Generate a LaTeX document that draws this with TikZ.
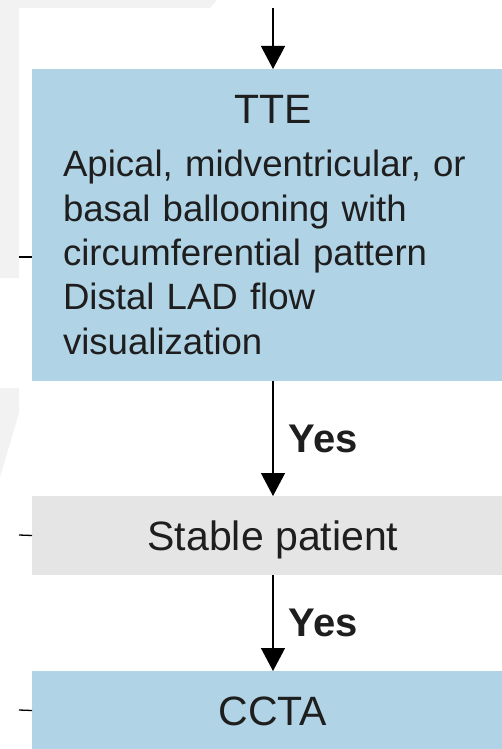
\documentclass[tikz,border=0pt]{standalone}
\usepackage{fontspec}
\setmainfont{Liberation Sans}
\usepackage{xcolor}
\usepackage{tikz}
\usetikzlibrary{arrows.meta}

\definecolor{boxblue}{RGB}{177,211,230}
\definecolor{boxgray}{RGB}{229,229,229}
\definecolor{bggray}{RGB}{242,242,242}
\definecolor{ink}{RGB}{30,30,30}

\begin{document}
\begin{tikzpicture}[x=1pt, y=-1pt, line width=1.3pt, text=ink,
        box/.style={minimum width=482pt, inner sep=0pt, outer sep=0pt},
        arrow/.style={-{Triangle[length=23pt, width=24pt]}},
        yes/.style={right, inner sep=0pt, xshift=15pt, font=\fontsize{40}{44}\selectfont\bfseries}]
        \useasboundingbox (0, 0) rectangle (502, 749);
        \clip (0, 0) rectangle (502, 749);
        \fill [bggray] (0, 0) -- (217, 0) -- (210, 8) -- (19, 8) -- (19, 278) -- (0, 278) -- cycle;
        \fill [bggray] (0, 388) -- (19, 388) -- (19, 413) -- (0, 477) -- cycle;
        \coordinate (top) at (273, 8);
        \node (tte) at (273, 225) [box, fill = boxblue, minimum height = 312pt, text width = 420pt, align = left, font = \fontsize{36.6}{44.3}\selectfont] {\makebox[420pt]{\fontsize{41}{44}\selectfont TTE}\\[8.7pt] Apical, midventricular, or\\ basal ballooning with\\ circumferential pattern\\ Distal LAD flow\\ visualization};
        \node (stable) at (273, 535.5) [box, fill = boxgray, minimum height = 79pt, text height = 30pt, text depth = 0pt, font = \fontsize{41}{44}\selectfont] {Stable patient};
        \node (ccta) at (273, 710.5) [box, fill = boxblue, minimum height = 79pt, text height = 30pt, text depth = 0pt, font = \fontsize{41}{44}\selectfont] {CCTA};
        \coordinate (t1) at (19, 257);
        \coordinate (t2) at (19, 535);
        \coordinate (t3) at (19, 710);
        \draw [arrow] (top) -- (tte);
        \draw [arrow] (tte) edge node [yes] {Yes} (stable);
        \draw [arrow] (stable) edge node [yes] {Yes} (ccta);
        \draw [] (t1) -- (t1 -| tte.west);
        \draw [] (t2) -- (stable.west);
        \draw [] (t3) -- (ccta.west);
    \end{tikzpicture}
\end{document}
